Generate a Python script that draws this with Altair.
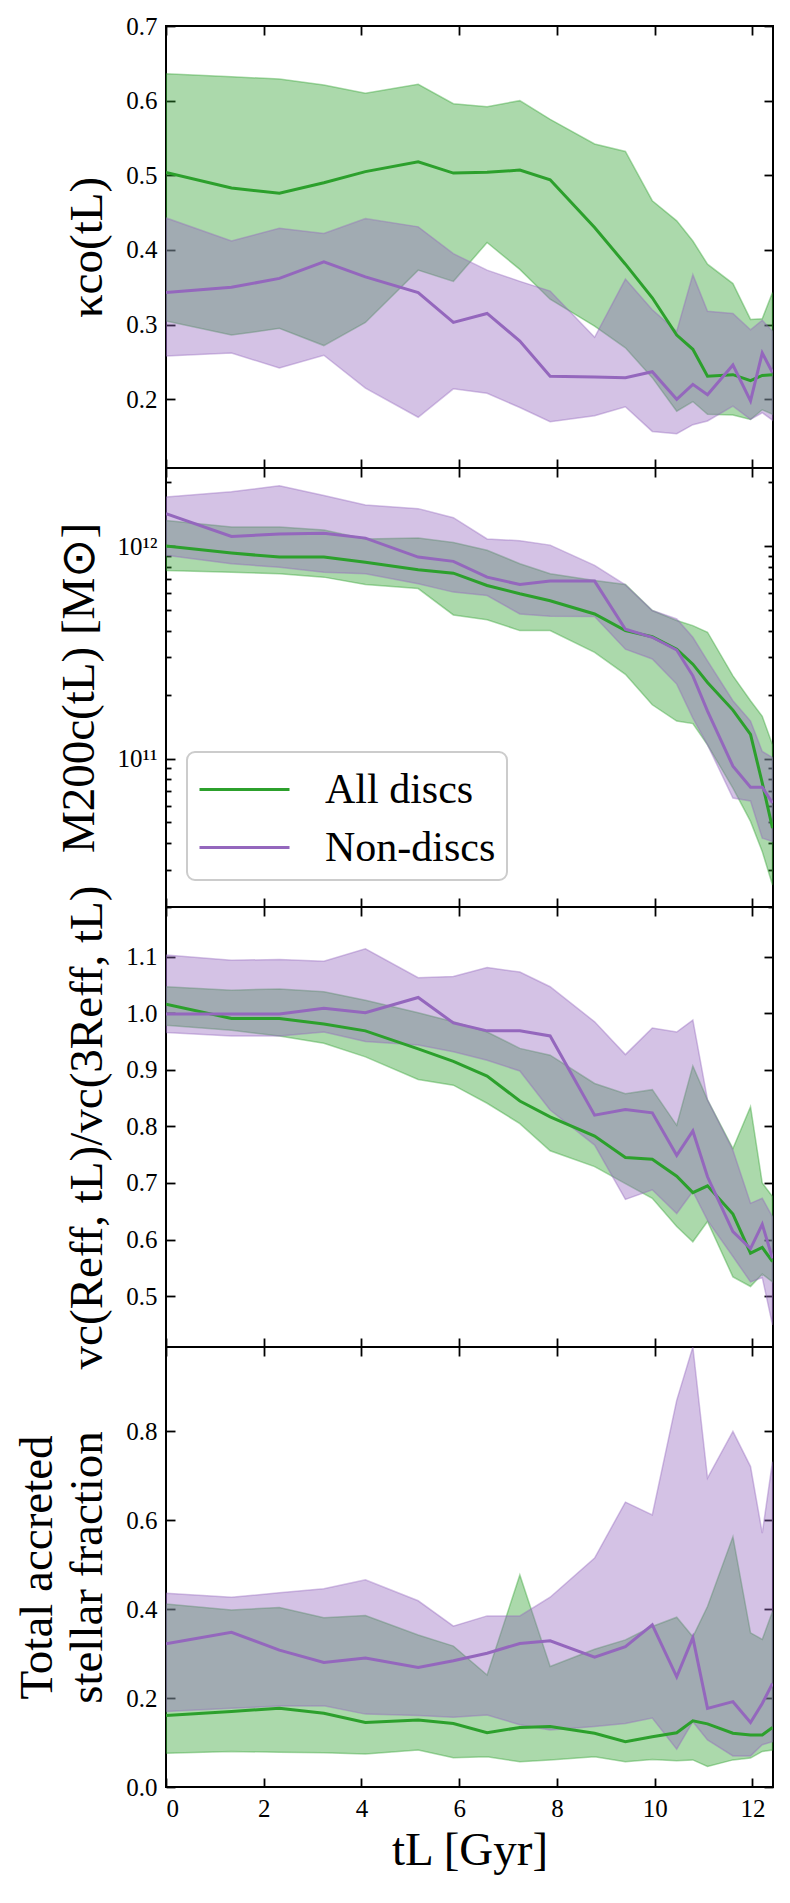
import altair as alt
import pandas as pd

FONT = "Liberation Serif"
GREEN = "#2ca02c"
PURPLE = "#9467bd"
groups = ["All discs", "Non-discs"]
colors = [GREEN, PURPLE]

# lookback times of the snapshots (Gyr)
t_gyr = [0.0, 1.34, 2.32, 3.23, 4.08, 5.16, 5.88, 6.57, 7.24, 7.86,
         8.77, 9.40, 9.95, 10.45, 10.78, 11.08, 11.60, 11.96, 12.20, 12.41]
x_ticks = [0, 2, 4, 6, 8, 10, 12]

# panel 1: kappa_co
kappa_disc_med = [0.504, 0.483, 0.476, 0.490, 0.505, 0.518, 0.503, 0.504, 0.507, 0.494,
                  0.430, 0.381, 0.336, 0.286, 0.267, 0.231, 0.233, 0.225, 0.232, 0.233]
kappa_disc_hi = [0.636, 0.632, 0.629, 0.621, 0.610, 0.622, 0.596, 0.592, 0.600, 0.575,
                 0.542, 0.532, 0.466, 0.439, 0.412, 0.381, 0.355, 0.307, 0.308, 0.343]
kappa_disc_lo = [0.305, 0.286, 0.295, 0.272, 0.303, 0.373, 0.358, 0.410, 0.374, 0.334,
                 0.298, 0.269, 0.229, 0.184, 0.197, 0.180, 0.179, 0.173, 0.186, 0.180]
kappa_non_med = [0.343, 0.350, 0.362, 0.384, 0.364, 0.343, 0.303, 0.315, 0.278, 0.231,
                 0.230, 0.229, 0.237, 0.200, 0.220, 0.206, 0.246, 0.198, 0.262, 0.236]
kappa_non_hi = [0.443, 0.412, 0.429, 0.422, 0.442, 0.431, 0.395, 0.373, 0.358, 0.345,
                0.283, 0.361, 0.320, 0.291, 0.367, 0.318, 0.315, 0.293, 0.306, 0.291]
kappa_non_lo = [0.258, 0.262, 0.242, 0.259, 0.215, 0.176, 0.214, 0.208, 0.189, 0.170,
                0.178, 0.190, 0.157, 0.154, 0.166, 0.171, 0.191, 0.173, 0.182, 0.172]
kappa_ticks = [0.2, 0.3, 0.4, 0.5, 0.6, 0.7]

# panel 2: M200c (Msun)
m200_disc_med = [1.00e12, 9.27e11, 8.87e11, 8.87e11, 8.39e11, 7.73e11, 7.45e11, 6.52e11, 5.96e11, 5.53e11,
                 4.79e11, 4.00e11, 3.74e11, 3.27e11, 2.78e11, 2.28e11, 1.69e11, 1.30e11, 7.67e10, 4.70e10]
m200_disc_hi = [1.32e12, 1.23e12, 1.23e12, 1.19e12, 1.08e12, 1.09e12, 1.04e12, 9.55e11, 8.26e11, 7.40e11,
                6.89e11, 6.59e11, 4.97e11, 4.46e11, 4.22e11, 3.93e11, 2.45e11, 1.87e11, 1.58e11, 1.16e11]
m200_disc_lo = [7.67e11, 7.53e11, 7.40e11, 7.14e11, 6.59e11, 6.31e11, 4.74e11, 4.50e11, 4.00e11, 4.00e11,
                3.16e11, 2.49e11, 1.79e11, 1.50e11, 1.46e11, 1.16e11, 7.26e10, 5.06e10, 3.65e10, 2.54e10]
m200_non_med = [1.42e12, 1.11e12, 1.14e12, 1.15e12, 1.09e12, 8.87e11, 8.47e11, 7.14e11, 6.59e11, 6.84e11,
                6.84e11, 4.06e11, 3.72e11, 3.24e11, 2.45e11, 1.67e11, 9.20e10, 7.33e10, 7.33e10, 6.17e10]
m200_non_hi = [1.70e12, 1.80e12, 1.92e12, 1.73e12, 1.56e12, 1.50e12, 1.36e12, 1.08e12, 1.06e12, 1.01e12,
               8.11e11, 6.56e11, 4.97e11, 4.54e11, 3.72e11, 2.88e11, 1.87e11, 1.50e11, 1.08e11, 1.01e11]
m200_non_lo = [9.04e11, 8.26e11, 7.94e11, 7.53e11, 7.40e11, 6.64e11, 6.07e11, 5.85e11, 4.79e11, 4.67e11,
               4.66e11, 3.27e11, 2.94e11, 2.24e11, 1.55e11, 1.16e11, 6.52e10, 6.31e10, 4.22e10, 4.07e10]
m200_ticks = [1e11, 1e12]
m200_minor = [2e10, 3e10, 4e10, 5e10, 6e10, 7e10, 8e10, 9e10,
              2e11, 3e11, 4e11, 5e11, 6e11, 7e11, 8e11, 9e11, 2e12]

# panel 3: vc ratio
vc_disc_med = [1.016, 0.991, 0.991, 0.981, 0.969, 0.937, 0.915, 0.889, 0.845, 0.817,
               0.783, 0.745, 0.742, 0.712, 0.683, 0.695, 0.645, 0.576, 0.586, 0.561]
vc_disc_hi = [1.047, 1.041, 1.043, 1.038, 1.023, 1.001, 0.985, 0.967, 0.938, 0.926,
              0.876, 0.858, 0.865, 0.802, 0.907, 0.847, 0.761, 0.835, 0.700, 0.676]
vc_disc_lo = [0.979, 0.970, 0.960, 0.947, 0.923, 0.883, 0.873, 0.841, 0.805, 0.757,
              0.729, 0.699, 0.673, 0.623, 0.596, 0.632, 0.534, 0.517, 0.539, 0.525]
vc_non_med = [0.999, 0.999, 0.999, 1.009, 1.001, 1.028, 0.983, 0.969, 0.969, 0.960,
              0.820, 0.830, 0.824, 0.749, 0.792, 0.711, 0.614, 0.584, 0.627, 0.567]
vc_non_hi = [1.103, 1.094, 1.095, 1.092, 1.114, 1.063, 1.065, 1.081, 1.073, 1.047,
             0.985, 0.927, 0.974, 0.967, 0.988, 0.847, 0.758, 0.664, 0.673, 0.640]
vc_non_lo = [0.966, 0.960, 0.960, 0.967, 0.950, 0.944, 0.932, 0.917, 0.898, 0.829,
             0.767, 0.671, 0.688, 0.646, 0.685, 0.634, 0.570, 0.525, 0.533, 0.449]
vc_ticks = [0.5, 0.6, 0.7, 0.8, 0.9, 1.0, 1.1]

# panel 4: accreted stellar fraction
acc_disc_med = [0.161, 0.170, 0.177, 0.166, 0.145, 0.151, 0.143, 0.122, 0.134, 0.136,
                0.121, 0.102, 0.113, 0.122, 0.149, 0.142, 0.121, 0.117, 0.117, 0.134]
acc_disc_hi = [0.412, 0.398, 0.404, 0.381, 0.386, 0.342, 0.317, 0.252, 0.477, 0.271,
               0.310, 0.331, 0.361, 0.382, 0.338, 0.406, 0.563, 0.347, 0.332, 0.395]
acc_disc_lo = [0.076, 0.080, 0.078, 0.077, 0.074, 0.083, 0.066, 0.068, 0.057, 0.061,
               0.068, 0.057, 0.062, 0.059, 0.061, 0.046, 0.061, 0.065, 0.080, 0.083]
acc_non_med = [0.322, 0.348, 0.308, 0.280, 0.290, 0.269, 0.284, 0.301, 0.323, 0.329,
               0.292, 0.316, 0.365, 0.248, 0.336, 0.177, 0.192, 0.145, 0.188, 0.233]
acc_non_hi = [0.436, 0.427, 0.437, 0.446, 0.466, 0.419, 0.362, 0.385, 0.385, 0.427,
              0.515, 0.641, 0.612, 0.870, 0.990, 0.695, 0.800, 0.721, 0.571, 0.732]
acc_non_lo = [0.170, 0.177, 0.182, 0.183, 0.164, 0.161, 0.157, 0.162, 0.140, 0.128,
              0.136, 0.143, 0.155, 0.085, 0.147, 0.106, 0.070, 0.070, 0.095, 0.102]
acc_ticks = [0.0, 0.2, 0.4, 0.6, 0.8]

WIDTH = 607
TICK = 9
MINOR = 5


def frame(med_d, lo_d, hi_d, med_n, lo_n, hi_n):
    n = len(t_gyr)
    return pd.DataFrame({
        "t": t_gyr + t_gyr,
        "group": [groups[0]] * n + [groups[1]] * n,
        "med": med_d + med_n,
        "lo": lo_d + lo_n,
        "hi": hi_d + hi_n,
    })


def panel(df, ydomain, yticks, ytitle, height, log=False, bottom=False, legend=False):
    xscale = alt.Scale(domain=[0, 12.42], nice=False, zero=False)
    if log:
        yscale = alt.Scale(type="log", domain=ydomain, nice=False)
    else:
        yscale = alt.Scale(domain=ydomain, nice=False, zero=False)
    cscale = alt.Scale(domain=groups, range=colors)

    xb_kwargs = dict(orient="bottom", values=x_ticks, offset=-TICK, tickSize=TICK,
                     domain=False, grid=False, minExtent=0, labelPadding=9)
    if bottom:
        xb = alt.Axis(title="tL [Gyr]", labels=True, format="d", titlePadding=6, **xb_kwargs)
    else:
        xb = alt.Axis(title=None, labels=False, **xb_kwargs)
    xt = alt.Axis(orient="top", values=x_ticks, offset=-TICK, tickSize=TICK, labels=False,
                  domain=False, grid=False, title=None, minExtent=0)

    yl_kwargs = dict(orient="left", values=yticks, offset=-TICK, tickSize=TICK, domain=False,
                     grid=False, labelPadding=9, title=ytitle, titlePadding=14, minExtent=0)
    if log:
        yl = alt.Axis(labelExpr="datum.value >= 5e11 ? '10¹²' : '10¹¹'", **yl_kwargs)
    else:
        yl = alt.Axis(format=".1f", **yl_kwargs)
    yr = alt.Axis(orient="right", values=yticks, offset=-TICK, tickSize=TICK, labels=False,
                  domain=False, grid=False, title=None, minExtent=0)
    if log:
        yl_minor = alt.Axis(orient="left", values=m200_minor, offset=-MINOR, tickSize=MINOR,
                            labels=False, domain=False, grid=False, title=None, minExtent=0)
        yr_minor = alt.Axis(orient="right", values=m200_minor, offset=-MINOR, tickSize=MINOR,
                            labels=False, domain=False, grid=False, title=None, minExtent=0)
    else:
        yl_minor = None
        yr_minor = None

    if legend:
        leg = alt.Legend(orient="none", legendX=21, legendY=284, title=None,
                         labelFont=FONT, labelFontSize=42, labelColor="black",
                         symbolType="M-1,0H2.6", symbolSize=2500, symbolStrokeWidth=3,
                         labelOffset=74, rowPadding=10, labelLimit=400)
    else:
        leg = None

    base = alt.Chart(df)
    area_d = base.transform_filter(alt.datum.group == groups[0]).mark_area(
        fill=GREEN, fillOpacity=0.4, stroke=GREEN, strokeOpacity=0.4, strokeWidth=1.5, clip=True
    ).encode(
        x=alt.X("t:Q", scale=xscale, axis=xb),
        y=alt.Y("lo:Q", scale=yscale, axis=yl),
        y2="hi:Q",
    )
    area_n = base.transform_filter(alt.datum.group == groups[1]).mark_area(
        fill=PURPLE, fillOpacity=0.4, stroke=PURPLE, strokeOpacity=0.4, strokeWidth=1.5, clip=True
    ).encode(
        x=alt.X("t:Q", scale=xscale, axis=xt),
        y=alt.Y("lo:Q", scale=yscale, axis=yr),
        y2="hi:Q",
    )
    line_d = base.transform_filter(alt.datum.group == groups[0]).mark_line(
        strokeWidth=3, clip=True
    ).encode(
        x=alt.X("t:Q", scale=xscale, axis=None),
        y=alt.Y("med:Q", scale=yscale, axis=yl_minor),
        color=alt.Color("group:N", scale=cscale, legend=leg),
    )
    line_n = base.transform_filter(alt.datum.group == groups[1]).mark_line(
        strokeWidth=3, clip=True
    ).encode(
        x=alt.X("t:Q", scale=xscale, axis=None),
        y=alt.Y("med:Q", scale=yscale, axis=yr_minor),
        color=alt.Color("group:N", scale=cscale, legend=leg),
    )
    return alt.layer(area_d, area_n, line_d, line_n).resolve_axis(
        x="independent", y="independent"
    ).properties(width=WIDTH, height=height)


p1 = panel(frame(kappa_disc_med, kappa_disc_lo, kappa_disc_hi, kappa_non_med, kappa_non_lo, kappa_non_hi),
           [0.108, 0.7], kappa_ticks, "κco(tL)", 442)
p2 = panel(frame(m200_disc_med, m200_disc_lo, m200_disc_hi, m200_non_med, m200_non_lo, m200_non_hi),
           [2.0e10, 2.33e12], m200_ticks, "M200c(tL) [M⊙]", 439, log=True, legend=True)
p3 = panel(frame(vc_disc_med, vc_disc_lo, vc_disc_hi, vc_non_med, vc_non_lo, vc_non_hi),
           [0.41, 1.188], vc_ticks, "vc(Reff, tL)/vc(3Reff, tL)", 440)
p4 = panel(frame(acc_disc_med, acc_disc_lo, acc_disc_hi, acc_non_med, acc_non_lo, acc_non_hi),
           [0.0, 0.99], acc_ticks, ["Total accreted", "stellar fraction"], 440, bottom=True)

chart = alt.vconcat(p1, p2, p3, p4, spacing=0, bounds="flush").resolve_scale(
    color="independent"
).resolve_legend(
    color="independent"
).properties(
    padding={"left": 4, "top": 5, "right": 5, "bottom": 5}
).configure_view(
    stroke="black", strokeWidth=2
).configure_axis(
    labelFont=FONT, labelFontSize=25, labelColor="black",
    titleFont=FONT, titleFontSize=47, titleFontWeight="normal", titleColor="black",
    titleLineHeight=50,
    tickColor="black", tickWidth=1.8,
).configure_legend(
    strokeColor="#cccccc", strokeWidth=2, fillColor="rgba(255,255,255,0.8)",
    cornerRadius=8, padding=11,
)

chart.save("out.html", embed_options={"renderer": "svg", "actions": False})
